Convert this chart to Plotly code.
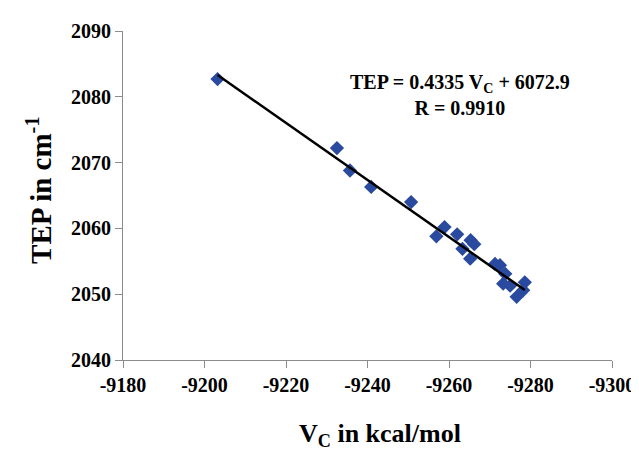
import plotly.graph_objects as go

vc = [-9203.2, -9232.5, -9235.7, -9240.9, -9250.7, -9256.9, -9258.9, -9262.0,
      -9263.3, -9265.3, -9266.2, -9265.2, -9271.3, -9272.5, -9273.8, -9273.3,
      -9275.0, -9278.6, -9278.2, -9276.6]
tep = [2082.7, 2072.2, 2068.8, 2066.3, 2064.0, 2058.8, 2060.2, 2059.1,
       2056.9, 2058.2, 2057.6, 2055.4, 2054.6, 2054.4, 2053.1, 2051.6,
       2051.3, 2051.8, 2050.6, 2049.6]
slope = 0.4335
intercept = 6072.9
x_ticks = [-9180, -9200, -9220, -9240, -9260, -9280, -9300]
x_labels = ["-9180", "-9200", "-9220", "-9240", "-9260", "-9280", "-9300"]
y_ticks = [2040, 2050, 2060, 2070, 2080, 2090]
y_labels = ["2040", "2050", "2060", "2070", "2080", "2090"]

fx = [min(vc), max(vc)]
fy = [slope * v + intercept for v in fx]

FONT = "Liberation Serif"

fig = go.Figure()
fig.add_trace(go.Scatter(x=vc, y=tep, mode="markers",
                         marker=dict(symbol="diamond", size=11, color="#2a4aa0",
                                     line=dict(width=0)),
                         showlegend=False))
fig.add_trace(go.Scatter(x=fx, y=fy, mode="lines",
                         line=dict(color="black", width=2.5), showlegend=False))

fig.update_layout(width=639, height=450,
                  margin=dict(l=115, r=32, t=21, b=98),
                  paper_bgcolor="white", plot_bgcolor="white")

common = dict(showgrid=False, zeroline=False, showline=True,
              linecolor="#8c8c8c", linewidth=1.2, ticks="outside",
              ticklen=7, tickcolor="#8c8c8c", tickwidth=1.2,
              tickfont=dict(family=FONT, size=20, color="black", weight="bold"))

fig.update_xaxes(range=[-9180, -9300], tickvals=x_ticks, ticktext=x_labels, **common)
fig.update_yaxes(range=[2040, 2090], tickvals=y_ticks, ticktext=y_labels, **common)

# axis titles
fig.add_annotation(x=0.525, xref="paper", y=0, yref="paper", yanchor="middle",
                   yshift=-75, text="<b>V<sub>C</sub> in kcal/mol</b>",
                   showarrow=False, font=dict(family=FONT, size=26, color="black"))
fig.add_annotation(x=0, xref="paper", xanchor="center", xshift=-84,
                   y=0.514, yref="paper", yanchor="middle", textangle=-90,
                   text="<b>TEP in cm<sup>-1</sup></b>",
                   showarrow=False, font=dict(family=FONT, size=29, color="black"))

fig.add_annotation(x=0.69, y=2080.2, xref="paper", yref="y", xanchor="center",
                   text="<b>TEP = 0.4335 V<sub>C</sub> + 6072.9</b><br><b>R = 0.9910</b>",
                   showarrow=False, align="center",
                   font=dict(family=FONT, size=20, color="black"))

fig.write_html("out.html")
